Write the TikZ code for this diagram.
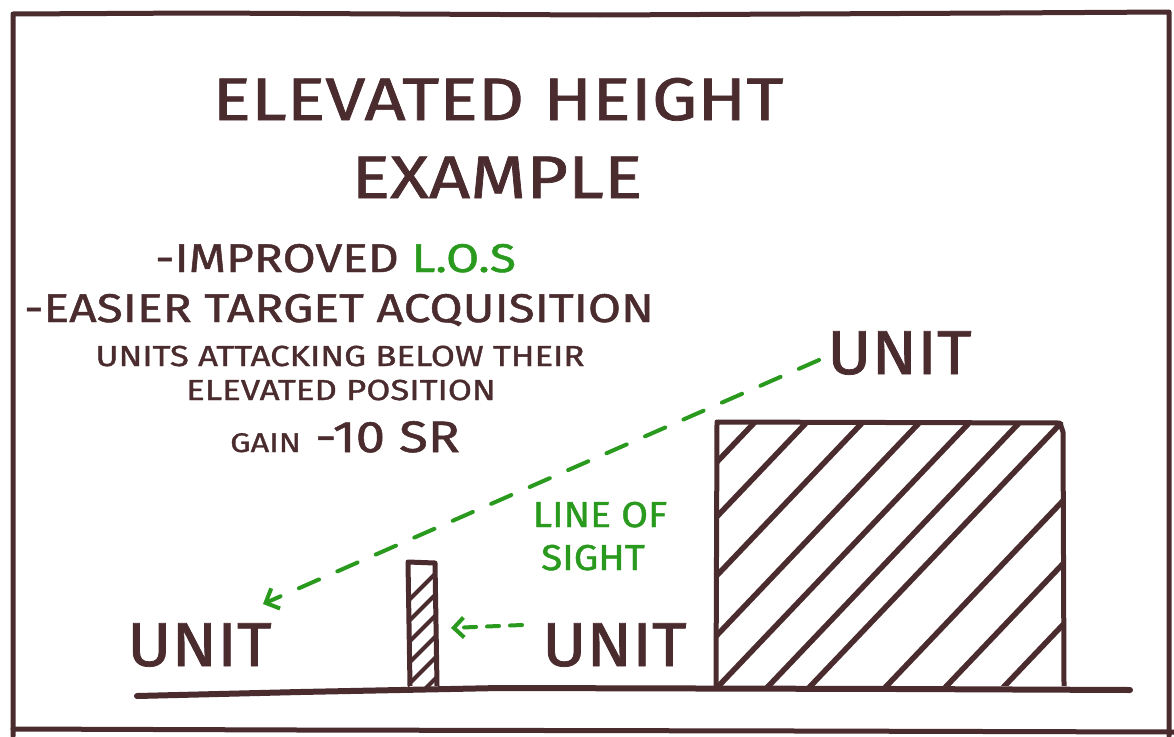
\documentclass[tikz,border=0pt]{standalone}
\usepackage{fontspec}
\setmainfont{Fira Sans}[FakeStretch=1.2, FakeBold=1.2]
\newfontfamily\plainfam{Fira Sans}[FakeStretch=1.08, FakeBold=1.2]
\usetikzlibrary{arrows.meta,calc}
\definecolor{ink}{HTML}{4A2B2E}
\definecolor{los}{HTML}{2A9A1E}
\tikzset{
  frame/.style={draw=ink, line width=5pt, line cap=round, line join=round},
  ground/.style={draw=ink, line width=6pt, line cap=round},
  hatchline/.style={draw=ink, line width=5.5pt, line cap=round},
  posthatch/.style={draw=ink, line width=4pt, line cap=round},
  outline/.style={draw=ink, line width=5pt, line join=round},
  txt/.style={text=ink, inner sep=0pt, anchor=base},
  gtxt/.style={text=los, inner sep=0pt, anchor=base},
  sight/.style={draw=los, line width=4pt, dash pattern=on 22pt off 20pt, line cap=round,
    -{Straight Barb[length=11pt,width=22pt,line width=4pt]}},
  sightshort/.style={draw=los, line width=4pt, dash pattern=on 12pt off 11pt, line cap=round,
    -{Straight Barb[length=10pt,width=20pt,line width=4pt]}},
}
\begin{document}
\begin{tikzpicture}[x=1pt,y=-1pt]
\useasboundingbox (0,0) rectangle (1174,736);
\fill[white] (0,0) rectangle (1174,736);

% frame
\draw[frame] (13,736) -- (13,14) -- (200,13) -- (600,15) -- (1000,13) -- (1169,12) -- (1169,736);
\draw[frame] (13,729) -- (300,730) -- (800,731) -- (1174,732);

% ground
\draw[ground] (137,696) -- (300,692) -- (500,688) -- (900,689) -- (1130,690);

% big block
\begin{scope}
  \clip (716,422) rectangle (1063,685);
  \foreach \xt in {755,807,863,920,970,1020,1062,1138,1198,1256} {
    \draw[hatchline] (\xt+100,317) -- ++(-500,525);
  }
\end{scope}
\draw[outline] (716,686) -- (717,422) -- (1060,423) -- (1063,432) -- (1064,686);

% post
\begin{scope}
  \clip (408,562) rectangle (436,686);
  \foreach \i in {0,...,6} {
    \draw[posthatch] ($(437,572)+(0,\i*21)$) -- ++(-30,30);
  }
\end{scope}
\draw[outline] (410,686) -- (408,562) -- (435,563) -- (437,686);

% texts
\node[txt, font=\fontsize{60}{60}\selectfont] (t1) at (498,120) {ELEVATED HEIGHT};
\node[txt, font=\fontsize{60}{60}\selectfont] (t2) at (497,198) {EXAMPLE};
\node[txt, font=\fontsize{40}{40}\selectfont, anchor=base west] (b1) at (155,272) {-IMPROVED \textcolor{los}{L.O.S}};
\node[txt, font=\fontsize{40}{40}\selectfont, anchor=base west] (b2) at (24,322) {-EASIER TARGET ACQUISITION};
\node[txt, font=\fontsize{29}{29}\selectfont] (b3) at (340,366) {UNITS ATTACKING BELOW THEIR};
\node[txt, font=\fontsize{29}{29}\selectfont] (b4) at (341,400) {ELEVATED POSITION};
\node[txt, font=\fontsize{27}{27}\selectfont, anchor=base west] (b5) at (230,452) {GAIN};
\node[txt, font=\fontsize{44}{44}\selectfont, anchor=base west] (b6) at (315,452) {-10 SR};

\node[txt, font=\plainfam\fontsize{62}{62}\selectfont, anchor=base west] (u1) at (827,374) {UNIT};
\node[txt, font=\plainfam\fontsize{62}{62}\selectfont, anchor=base west] (u2) at (127,666) {UNIT};
\node[txt, font=\plainfam\fontsize{62}{62}\selectfont, anchor=base west] (u3) at (542,666) {UNIT};

\node[gtxt, font=\plainfam\fontsize{36}{36}\selectfont] (l1) at (600,527) {LINE OF};
\node[gtxt, font=\plainfam\fontsize{36}{36}\selectfont] (l2) at (593,570) {SIGHT};

% line of sight arrows
\coordinate (s1) at (819,360);
\coordinate (e1) at (263,604);
\draw[sight] (s1) -- (e1);
\coordinate (s2) at (522,625);
\coordinate (e2) at (451,628);
\draw[sightshort] (s2) -- (e2);
\end{tikzpicture}
\end{document}
